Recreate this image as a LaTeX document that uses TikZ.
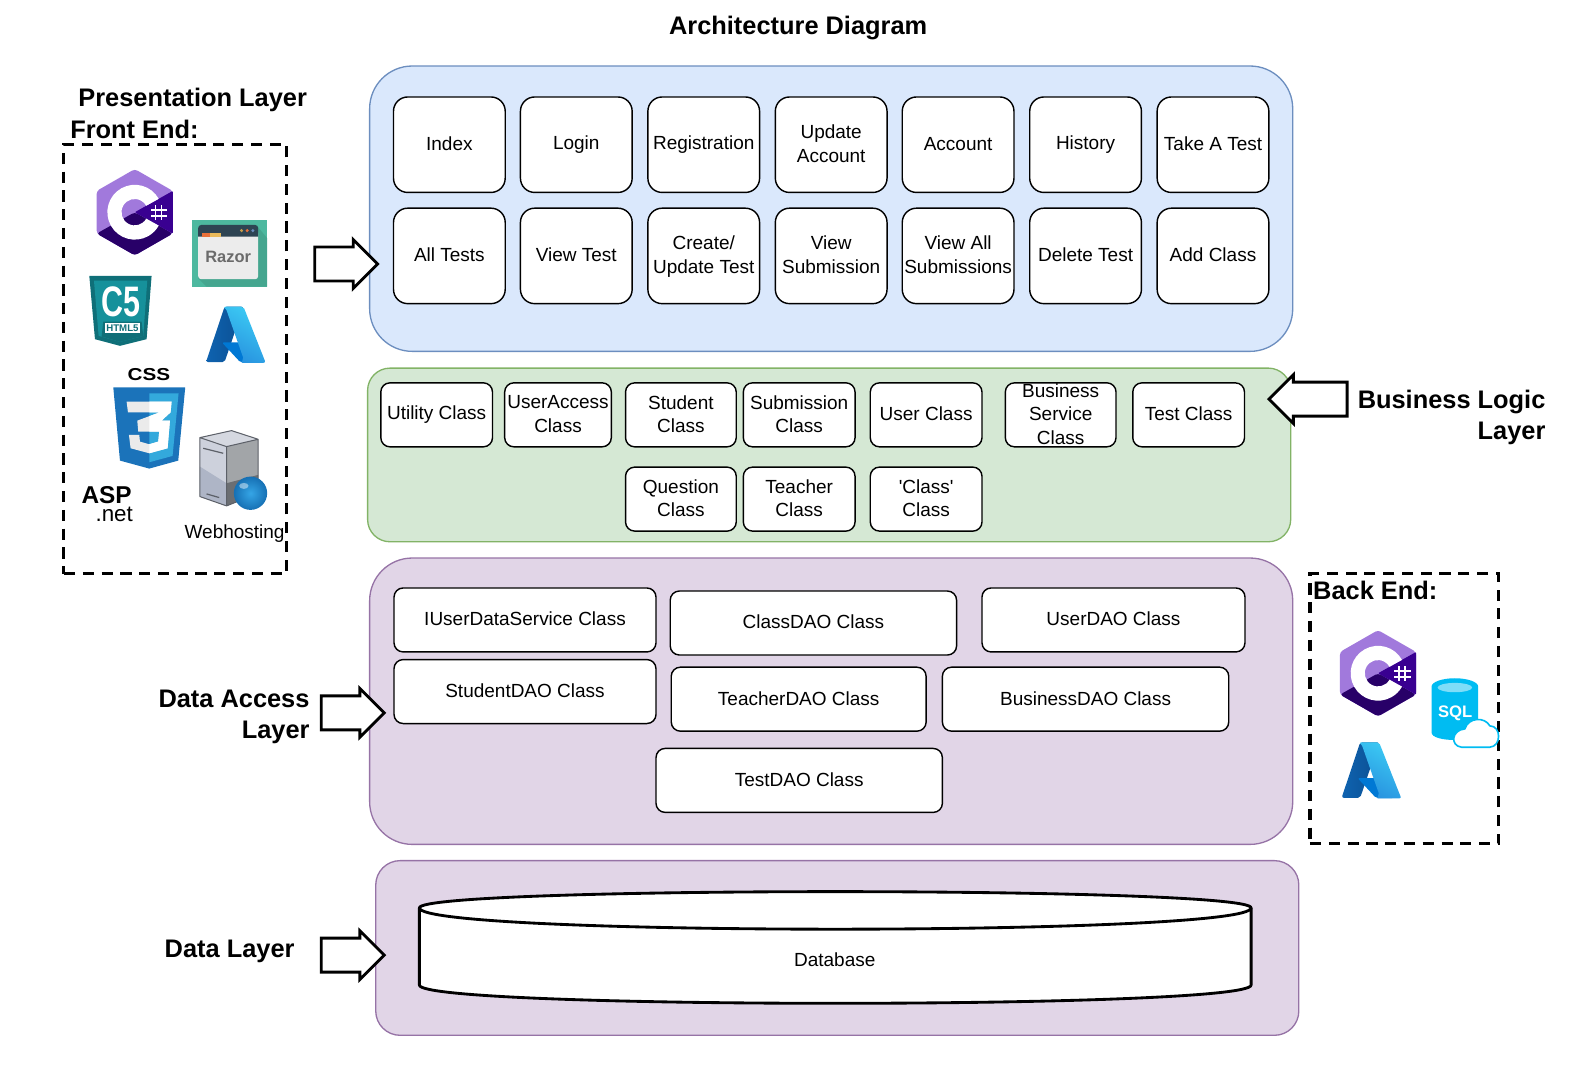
\documentclass[tikz,border=0pt]{standalone}
\usepackage{fontspec}
\setmainfont{Liberation Sans}
\usetikzlibrary{shapes.arrows}
\definecolor{bluefill}{HTML}{DAE8FC}
\definecolor{blueline}{HTML}{6C8EBF}
\definecolor{greenfill}{HTML}{D5E8D4}
\definecolor{greenline}{HTML}{82B366}
\definecolor{purplefill}{HTML}{E1D5E7}
\definecolor{purpleline}{HTML}{9673A6}
\tikzset{
	panel/.style={draw,line width=1.3pt,inner sep=0pt},
	pagebox/.style={draw,fill=white,line width=1.4pt,rounded corners=14pt,minimum width=110pt,minimum height=94pt,inner sep=0pt,align=center,execute at begin node=\rule[-2pt]{0pt}{1pt},font=\fontsize{18.7}{23.5}\selectfont},
	classbox/.style={draw,fill=white,line width=1.4pt,rounded corners=9pt,minimum height=63pt,inner sep=0pt,align=center,execute at begin node=\rule[-2pt]{0pt}{1pt},font=\fontsize{18.7}{23}\selectfont},
	dashbox/.style={draw,line width=3pt,dash pattern=on 11pt off 7.5pt,inner sep=0pt},
	blockarrow/.style={draw,fill=white,line width=2.8pt,single arrow,single arrow head indent=0pt,minimum width=48pt,minimum height=62pt,inner xsep=0pt,inner ysep=15pt,anchor=tail},
	heading/.style={inner sep=0pt,font=\fontsize{25}{31}\selectfont\bfseries},
	flipped/.style={yscale=-1},
	csharp/.pic={
		\fill[rounded corners=3pt,fill=csharplight] (0,-42.5) -- (37.5,-21) -- (37.5,21) -- (0,42.5) -- (-37.5,21) -- (-37.5,-21) -- cycle;
		\fill[rounded corners=3pt,fill=csharpdark] (0,0) -- (37.5,21) -- (0,42.5) -- (-37.5,21) -- cycle;
		\fill[rounded corners=1pt,fill=csharpmid] (0,0) -- (37.5,-21) -- (37.5,21) -- cycle;
		\fill[white] (23.6,-13.2) arc[start angle=-29.2,end angle=-330.8,radius=27] -- (11.3,6.3) arc[start angle=29.2,end angle=330.8,radius=13] -- cycle;
		\draw[white,line width=1.6pt] (20.5,-7) -- (20.5,8) (26.5,-7) -- (26.5,8) (16,-2.5) -- (32,-2.5) (16,3.5) -- (32,3.5);
	},
	azure/.pic={
		\shade[rounded corners=2pt,left color=azureleft,right color=azureleftb] (31,6.5) -- (59.5,6.5) -- (31,90) -- (3,90) -- cycle;
		\fill[rounded corners=2pt,fill=azuremid] (71,60.3) -- (27,60.3) -- (55,90.5) -- (82,90.5) -- cycle;
		\shade[rounded corners=2pt,left color=azurerighta,right color=azurerightb,shading angle=-30] (29.5,6.5) -- (59.5,6.5) -- (93,91) -- (55,91) -- (60,86) -- (33,9) -- cycle;
	},
	razor/.pic={
		\fill[razorgreen] (395,240) rectangle (622,440);
		\fill[razorshadow] (415,415) -- (440,440) -- (622,440) -- (622,295) -- (595,262) -- cycle;
		\fill[rounded corners=3pt,fill=razorpane] (415,270) rectangle (595,418);
		\fill[razorbar] (415,290) [rounded corners=3pt] -- (415,255) -- (595,255) [sharp corners] -- (595,290) -- cycle;
		\fill[razororange] (425,278) rectangle (450,290);
		\fill[razoryellow] (450,278) rectangle (483,290);
		\fill[razoryellow!85!black] (545,272) circle (5);
		\fill[razororange] (562,272) circle (5);
		\fill[blueline] (579,272) circle (5);
		\node[inner sep=0pt,text=razortext,font=\fontsize{16.2}{18}\selectfont\bfseries] (razorword) at (505,350) {Razor};
	},
	htmlshield/.pic={
		\fill[shieldteal] (88,408) -- (275,408) -- (260,598) -- (180,618) -- (105,598) -- cycle;
		\fill[shieldlight] (102,422) -- (262,422) -- (250,588) -- (180,606) -- (116,588) -- cycle;
		\fill[shieldteal] (130,545) -- (245,545) -- (250,588) -- (180,606) -- (125,590) -- cycle;
		\node[inner sep=0pt,text=white,font=\fontsize{30}{30}\selectfont\bfseries] (shieldword) at (182,486) {\scalebox{1}[1.4]{C5}};
		\fill[white] (135,550) rectangle (240,578);
		\node[inner sep=0pt,text=shieldteal,font=\fontsize{9.5}{10}\selectfont\bfseries] (shieldtag) at (187.5,564) {HTML5};
	},
	cssthree/.pic={
		\node[inner sep=0pt,font=\fontsize{17}{17}\selectfont\bfseries] (cssword) at (267,73) {\scalebox{1.2}[1]{CSS}};
		\fill[cssdark] (160,112) -- (376,112) -- (355,332) -- (268,356) -- (180,332) -- cycle;
		\fill[csslight] (268,130) -- (356,130) -- (338,318) -- (268,337) -- cycle;
		\fill[cssgrey] (200,155) -- (335,155) -- (332,187) -- (305,212) -- (330,212) -- (323,295) -- (268,310) -- (212,295) -- (207,255) -- (238,255) -- (240,275) -- (268,283) -- (295,275) -- (298,245) -- (235,245) -- (232,212) -- (300,187) -- (204,187) -- cycle;
		\begin{scope}
			\clip (268,130) rectangle (376,340);
			\fill[white] (200,155) -- (335,155) -- (332,187) -- (305,212) -- (330,212) -- (323,295) -- (268,310) -- (212,295) -- (207,255) -- (238,255) -- (240,275) -- (268,283) -- (295,275) -- (298,245) -- (235,245) -- (232,212) -- (300,187) -- (204,187) -- cycle;
		\end{scope}
	},
	server/.pic={
		\fill[serverface] (420,263) -- (500,290) -- (500,468) -- (420,440) -- cycle;
		\fill[serverfacelow] (420,350) -- (500,400) -- (500,468) -- (420,440) -- cycle;
		\fill[servertop] (420,263) -- (515,242) -- (595,268) -- (500,290) -- cycle;
		\fill[serverside] (500,290) -- (595,268) -- (595,430) -- (500,468) -- cycle;
		\fill[serversidelow] (500,400) -- (595,375) -- (595,430) -- (500,468) -- cycle;
		\draw[line width=1pt,serverline,line join=round] (420,263) -- (515,242) -- (595,268) -- (595,430) -- (500,468) -- (420,440) -- cycle (420,263) -- (500,290) -- (595,268) (500,290) -- (500,468);
		\draw[line width=1.2pt,serverline] (430,295) -- (490,310) (440,432) -- (478,443);
		\shade[inner color=balllight,outer color=ballblue] (572,430) circle (50);
		\fill[white,opacity=.45] (552,408) ellipse (14 and 9);
	},
	sqlcloud/.pic={
		\fill[sqlblue] (455,380) -- (455,518) .. controls (455,548) and (595,548) .. (595,518) -- (595,380) arc[start angle=0,end angle=-180,x radius=70,y radius=25] -- cycle;
		\fill[sqllight] (525,383) ellipse (52 and 14);
		\node[inner sep=0pt,text=white,font=\fontsize{16.4}{18}\selectfont\bfseries] (sqlword) at (526,460) {SQL};
		\draw[fill=white,draw=sqlblue,line width=1.6pt] (545,562) .. controls (510,558) and (515,510) .. (555,507) .. controls (565,472) and (615,470) .. (630,498) .. controls (665,498) and (665,560) .. (630,562) -- cycle;
	}
}
\definecolor{csharplight}{HTML}{A179DC}
\definecolor{csharpmid}{HTML}{390091}
\definecolor{csharpdark}{HTML}{280068}
\definecolor{azureleft}{HTML}{0F63B0}
\definecolor{azureleftb}{HTML}{0B4F92}
\definecolor{azuremid}{HTML}{0078D4}
\definecolor{azurerighta}{HTML}{3CCBF4}
\definecolor{azurerightb}{HTML}{2892DF}
\definecolor{razorgreen}{HTML}{4DB89F}
\definecolor{razorshadow}{HTML}{45A68F}
\definecolor{razorpane}{HTML}{ECECEC}
\definecolor{razorbar}{HTML}{2E4453}
\definecolor{razororange}{HTML}{E8703A}
\definecolor{razoryellow}{HTML}{E8B95A}
\definecolor{razortext}{HTML}{6B6B6B}
\definecolor{shieldteal}{HTML}{0F6F78}
\definecolor{shieldlight}{HTML}{16919B}
\definecolor{cssdark}{HTML}{1B73BA}
\definecolor{csslight}{HTML}{33A9DC}
\definecolor{cssgrey}{HTML}{EBEBEB}
\definecolor{serverface}{HTML}{CDD1DC}
\definecolor{serverfacelow}{HTML}{AEB5C6}
\definecolor{servertop}{HTML}{D5D8E0}
\definecolor{serverside}{HTML}{A2A5A8}
\definecolor{serversidelow}{HTML}{6B6E72}
\definecolor{serverline}{HTML}{5C6068}
\definecolor{ballblue}{HTML}{1670B4}
\definecolor{balllight}{HTML}{35A5E6}
\definecolor{sqlblue}{HTML}{00BCF2}
\definecolor{sqllight}{HTML}{7FDDF8}

\begin{document}
\begin{tikzpicture}[x=1pt,y=1pt,yscale=-1]
	\useasboundingbox (0,0) rectangle (1568.7,1049.7);

	\node[heading] (title) at (786,28) {Architecture Diagram};

	% layers
	\node[panel,fill=bluefill,draw=blueline,rounded corners=42pt,minimum width=909pt,minimum height=281pt] (pagepanel) at (818.5,205.5) {};
	\node[panel,fill=greenfill,draw=greenline,rounded corners=22pt,minimum width=909pt,minimum height=171pt] (logicpanel) at (816.5,448) {};
	\node[panel,fill=purplefill,draw=purpleline,rounded corners=42pt,minimum width=909pt,minimum height=282pt] (daopanel) at (818.5,690.5) {};
	\node[panel,fill=purplefill,draw=purpleline,rounded corners=24pt,minimum width=909pt,minimum height=172pt] (datapanel) at (824.5,933.5) {};

	% pages
	\foreach \x/\n/\t in {442.5/index/Index,567.5/login/Login,693/registration/Registration,818.5/updateaccount/{Update\\Account},943.5/account/Account,1069/history/History,1194.5/takeatest/Take A Test}
		\node[pagebox] (\n) at (\x,142.5) {\t};
	\foreach \x/\n/\t in {442.5/alltests/All Tests,567.5/viewtest/View Test,693/createtest/{Create/\\\smash{Update Test}},818.5/viewsubmission/{View\\Submission},943.5/viewall/{View All\\Submissions},1069/deletetest/Delete Test,1194.5/addclass/Add Class}
		\node[pagebox] (\n) at (\x,252) {\t};

	% business classes
	\foreach \x/\w/\n/\t in {430/110/utility/Utility Class,549.5/105/useraccess/{UserAccess\\Class},670.5/109/student/{Student\\Class},787/110/submission/{Submission\\Class},912/110/user/User Class,1044.5/109/business/{Business\\Service\\Class},1170.5/110/testclass/Test Class}
		\node[classbox,minimum width=\w pt] (\n) at (\x,408.5) {\t};
	\foreach \x/\w/\n/\t in {670.5/109/question/{Question\\Class},787/110/teacher/{Teacher\\Class},912/110/classclass/{\textquotesingle Class\textquotesingle\\Class}}
		\node[classbox,minimum width=\w pt] (\n) at (\x,491.5) {\t};

	% dao classes
	\node[classbox,minimum width=258pt] (iuserdao) at (517,610.5) {IUserDataService Class};
	\node[classbox,minimum width=282pt] (classdao) at (801,613.5) {ClassDAO Class};
	\node[classbox,minimum width=259pt] (userdao) at (1096.5,610.5) {UserDAO Class};
	\node[classbox,minimum width=258pt] (studentdao) at (517,681) {StudentDAO Class};
	\node[classbox,minimum width=251pt] (teacherdao) at (786.5,688.5) {TeacherDAO Class};
	\node[classbox,minimum width=282pt] (businessdao) at (1069,688.5) {BusinessDAO Class};
	\node[classbox,minimum width=282pt] (testdao) at (787,768.5) {TestDAO Class};

	% database
	\draw[fill=white,line width=2.8pt,line join=round] (413,894) .. controls (413,872.7) and (1232,872.7) .. (1232,894) -- (1232,970) .. controls (1232,994) and (413,994) .. (413,970) -- cycle;
	\draw[line width=2.8pt] (413,894) .. controls (413,922) and (1232,922) .. (1232,894);
	\node[inner sep=0pt,font=\fontsize{18.7}{23}\selectfont] (database) at (822,945) {Database};

	% layer names
	\node[heading,anchor=west] (presentation) at (77,98) {Presentation Layer};
	\node[heading,anchor=west] (frontend) at (69,127) {Front End:};
	\node[heading,anchor=east,align=right] (logicname) at (1522,411) {Business Logic\\Layer};
	\node[heading,anchor=east,align=right] (daoname) at (305,706) {Data Access\\Layer};
	\node[heading,anchor=west] (dataname) at (162,936.5) {Data Layer};

	\node[blockarrow] (pagearrow) at (308.5,260) {};
	\node[blockarrow,shape border rotate=180,minimum height=77pt] (logicarrow) at (1328,393) {};
	\node[blockarrow] (daoarrow) at (315,702) {};
	\node[blockarrow] (dataarrow) at (315,940.5) {};

	% front end
	\node[dashbox,minimum width=219pt,minimum height=423pt] (frontbox) at (172.5,353.5) {};
	\pic[flipped] at (132.7,209) {csharp};
	\pic[flipped,scale=.328] at (59.08,137.86) {razor};
	\pic[flipped,scale=.328] at (59.08,137.86) {htmlshield};
	\pic[flipped,scale=.653] at (200.9,297.8) {azure};
	\pic[flipped,scale=.328] at (59.08,344.66) {cssthree};
	\pic[flipped,scale=.328] at (59.08,344.66) {server};
	\node[inner sep=0pt,font=\fontsize{24}{24}\selectfont\bfseries] (aspword) at (105,487.5) {ASP};
	\node[inner sep=0pt,font=\fontsize{22}{22}\selectfont] (netword) at (112.5,507) {.net};
	\node[inner sep=0pt,font=\fontsize{18.7}{23}\selectfont] (webhosting) at (231,525.5) {Webhosting};

	% back end
	\node[dashbox,minimum width=186pt,minimum height=266pt] (backbox) at (1383,698) {};
	\node[heading,anchor=west] (backend) at (1293,581) {Back End:};
	\pic[flipped] at (1357,663) {csharp};
	\pic[flipped,scale=.328] at (1260.46,551.45) {sqlcloud};
	\pic[flipped,scale=.653] at (1319.2,726.8) {azure};
\end{tikzpicture}
\end{document}
